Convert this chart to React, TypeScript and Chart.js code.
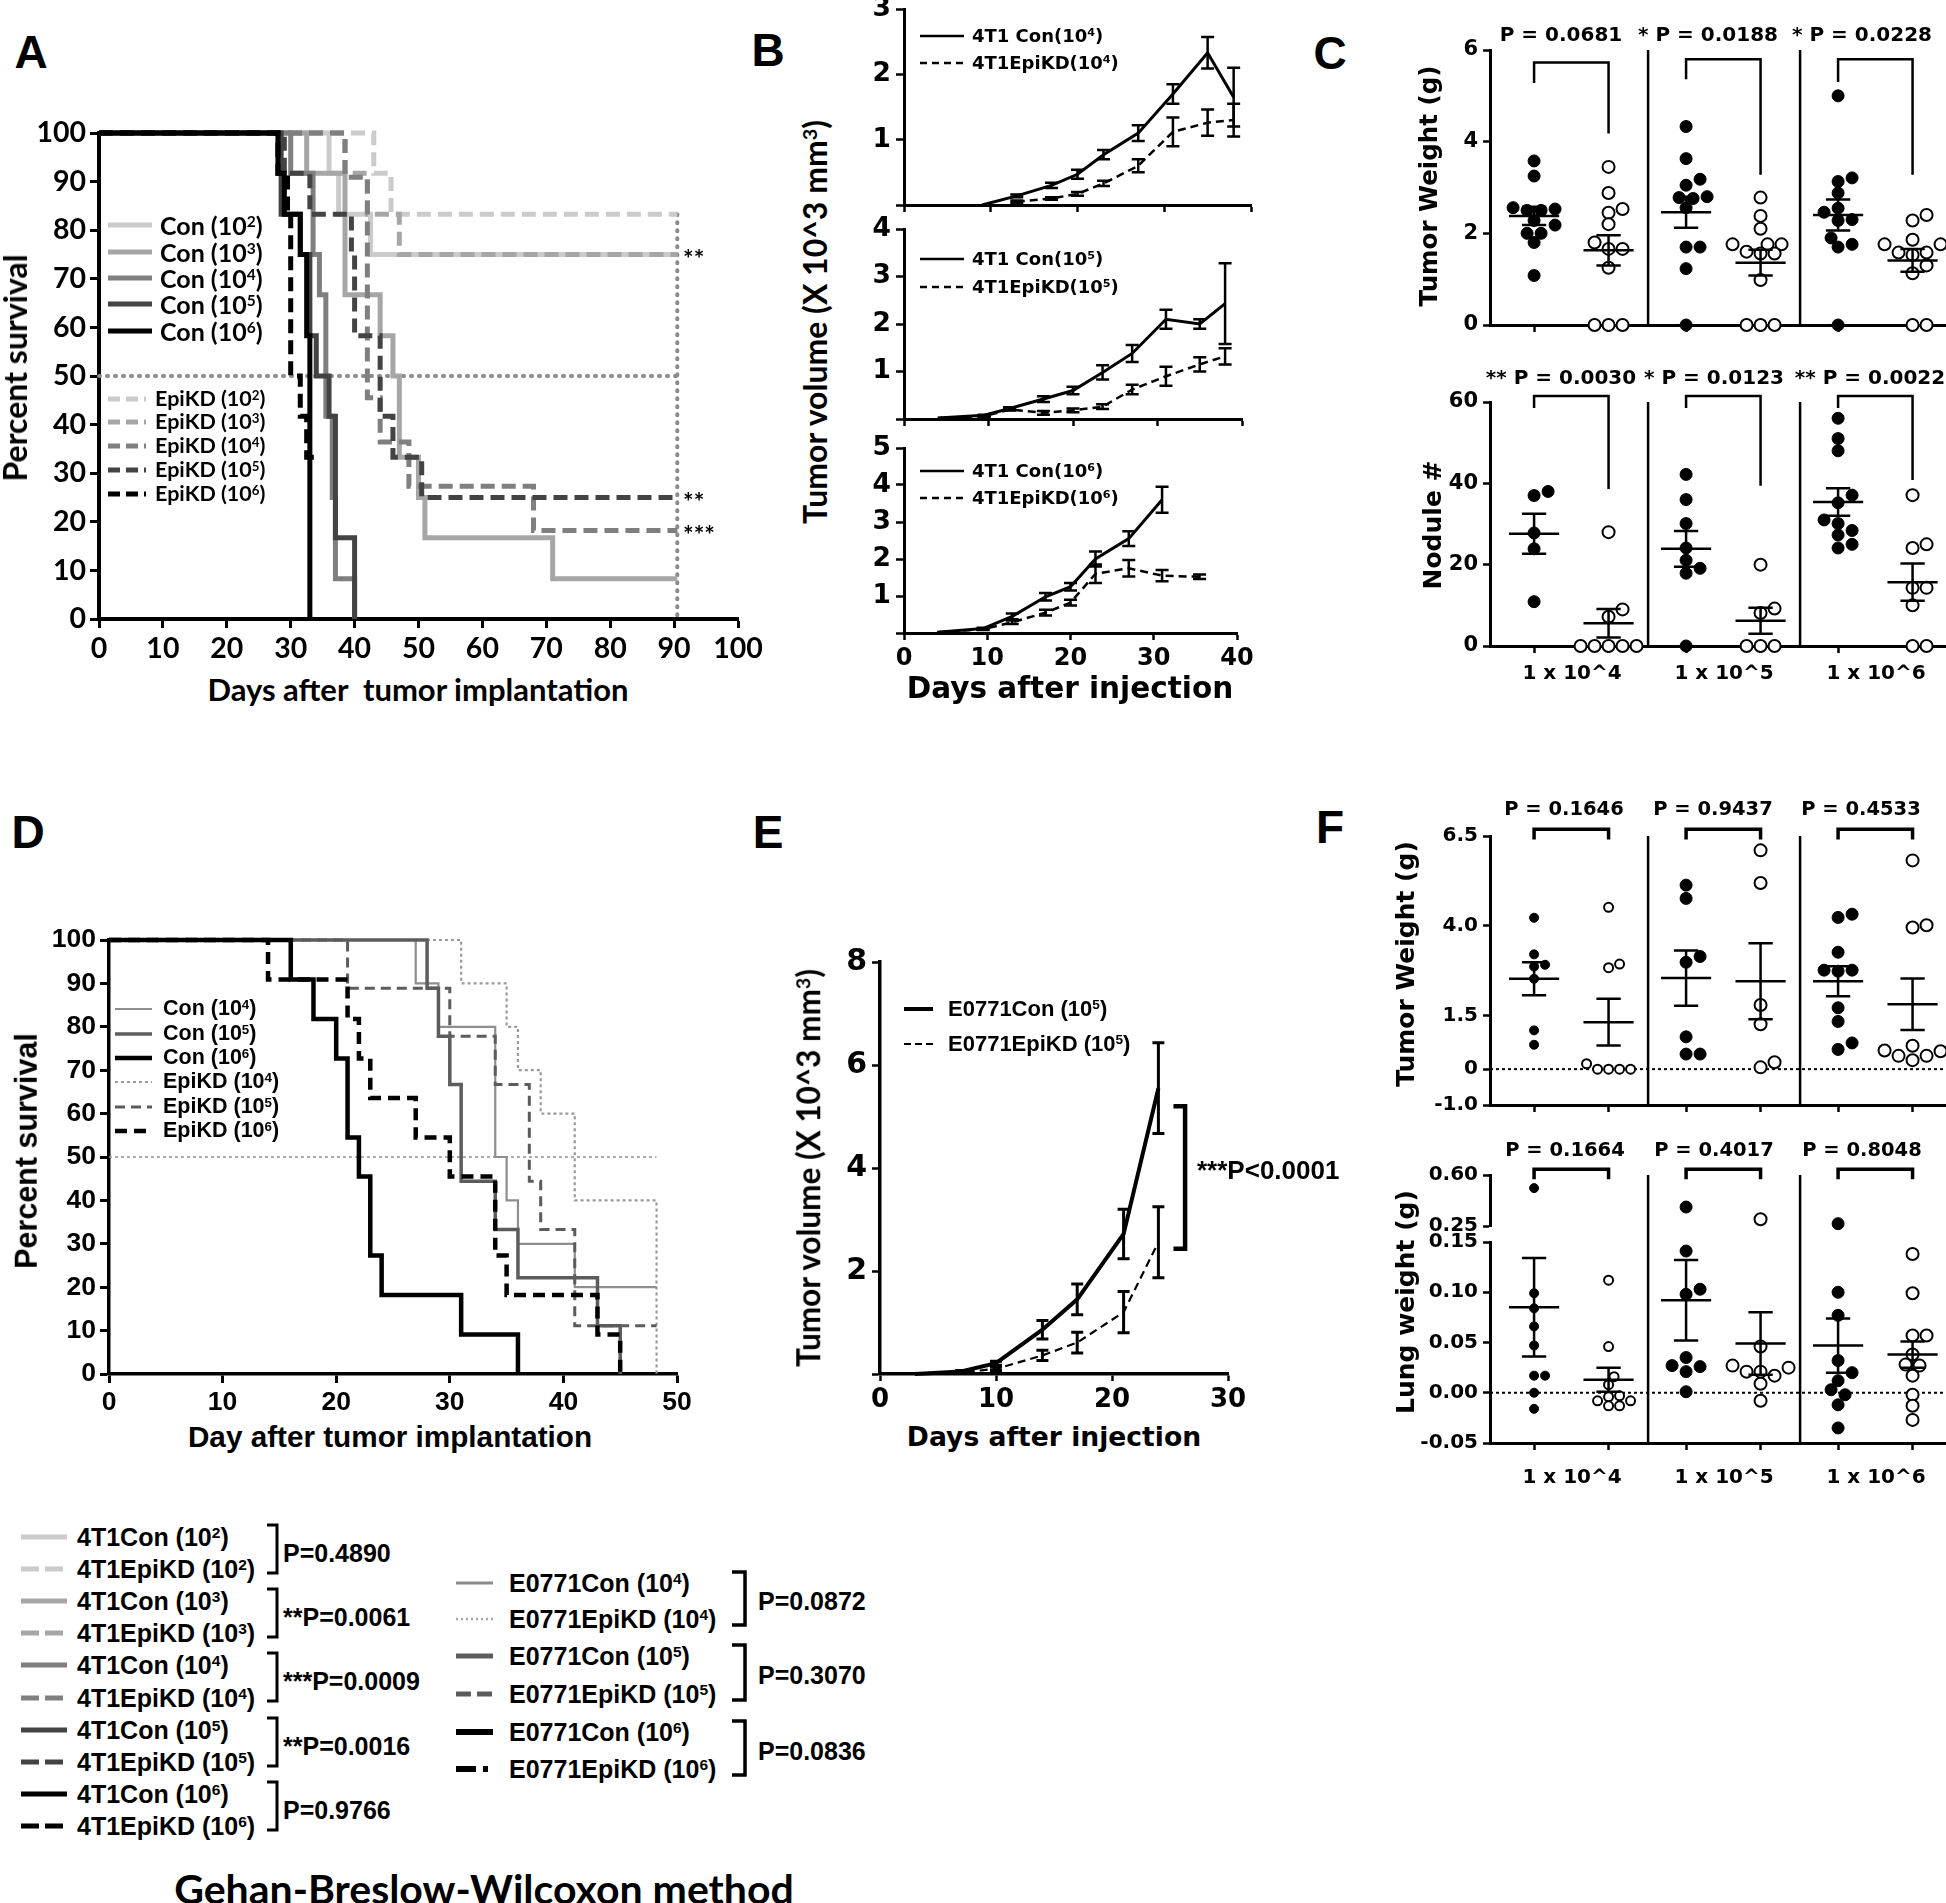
import React, { useEffect, useRef } from "react";
import { Chart, registerables } from "chart.js";

Chart.register(...registerables);

/* ---------------- fonts ---------------- */
const LATO = "Lato, 'Open Sans', sans-serif";
const DV = "'DejaVu Sans', Verdana, sans-serif";
const AR = "'Liberation Sans', Arial, sans-serif";

/* ======================= DATA ======================= */
// Panel A – 4T1 survival, Kaplan-Meier steps [day, % survival]
const aXTicks = [0, 10, 20, 30, 40, 50, 60, 70, 80, 90, 100];
const aYTicks = [0, 10, 20, 30, 40, 50, 60, 70, 80, 90, 100];
const aCon2 = [[0, 100], [36, 91.7], [37.5, 83.3], [42.5, 75], [90.5, 75]];
const aEpi2 = [[0, 100], [43, 91.7], [45.7, 83.3], [90.5, 83.3]];
const aCon3 = [[0, 100], [32.5, 91.7], [38.5, 66.7], [44, 58.3], [46, 50], [47, 33.3], [50, 25], [51, 16.7], [71, 8.3], [90.5, 8.3]];
const aEpi3 = [[0, 100], [38.5, 91.7], [42, 83.3], [47, 75], [90.5, 75]];
const aCon4 = [[0, 100], [30, 91.7], [33.5, 75], [34.5, 66.7], [35.5, 41.7], [36.5, 25], [37, 8.3], [40, 0]];
const aEpi4 = [[0, 100], [38.5, 90.9], [42, 45.5], [44, 36.4], [48.5, 27.3], [68, 18.2], [90.5, 18.2]];
const aCon5 = [[0, 100], [28.5, 83.3], [31.5, 75], [33, 58.3], [34, 50], [36, 41.7], [37, 16.7], [40, 0]];
const aEpi5 = [[0, 100], [29, 91.7], [33, 83.3], [39.5, 75], [40, 58.3], [44, 41.7], [46, 33.3], [50.5, 25], [90.5, 25]];
const aCon6 = [[0, 100], [28, 91.7], [29, 83.3], [31.5, 75], [32.5, 58.3], [33, 0]];
const aEpi6 = [[0, 100], [28, 91.7], [29.5, 83.3], [30, 50], [31.5, 41.7], [32.5, 33.3], [34, 33.3]];
const aMedianLevel = 50;
const aEndDay = 90.5;
const aEndTop = 83.3;
const aStarLabels = ["**", "**", "***"];
const aStarValues = [75, 25, 18.2];
const aLegendExp = ["2", "3", "4", "5", "6"];

// Panel B – 4T1 tumour growth (x10^3 mm3), mean and SEM
const bXTicks = [0, 10, 20, 30, 40];
const bDays4 = [9, 13, 17, 20, 23, 27, 31, 35, 38];
const bCon4 = [0, 0.14, 0.3, 0.47, 0.77, 1.1, 1.7, 2.33, 1.65];
const bCon4Sem = [0, 0.02, 0.04, 0.07, 0.07, 0.12, 0.15, 0.24, 0.45];
const bEpi4 = [null, 0.05, 0.1, 0.17, 0.33, 0.6, 1.12, 1.26, 1.3];
const bEpi4Sem = [0, 0.02, 0.02, 0.03, 0.04, 0.1, 0.22, 0.2, 0.25];
const bDays5 = [4, 9.5, 12.5, 16.5, 20, 23.5, 27, 31, 35, 38];
const bCon5 = [0.02, 0.08, 0.22, 0.42, 0.6, 0.98, 1.38, 2.1, 2.0, 2.43];
const bCon5Sem = [0, 0.01, 0.03, 0.06, 0.08, 0.15, 0.18, 0.2, 0.1, 0.85];
const bEpi5 = [0.02, 0.06, 0.2, 0.13, 0.18, 0.26, 0.62, 0.9, 1.15, 1.32];
const bEpi5Sem = [0, 0.01, 0.02, 0.04, 0.04, 0.05, 0.1, 0.2, 0.15, 0.17];
const bDays6 = [4, 9.5, 13, 17, 20, 23, 27, 31, 35.5];
const bCon6 = [0.02, 0.12, 0.45, 0.98, 1.25, 2.0, 2.55, 3.6, null];
const bCon6Sem = [0, 0.02, 0.08, 0.1, 0.1, 0.2, 0.2, 0.35, 0];
const bEpi6 = [0.02, 0.1, 0.29, 0.55, 0.82, 1.6, 1.75, 1.55, 1.52];
const bEpi6Sem = [0, 0.02, 0.05, 0.08, 0.08, 0.25, 0.22, 0.15, 0.06];

// Panel C – tumour weight (g) and nodule number
const cWeightCon4 = [3.58, 3.25, 2.56, 2.53, 2.5, 2.5, 2.28, 2.18, 2.0, 2.0, 1.8, 1.08];
const cWeightEpi4 = [3.45, 2.88, 2.53, 2.45, 2.2, 1.8, 1.66, 1.66, 1.25, 0, 0, 0];
const cWeightCon5 = [4.33, 3.63, 3.18, 3.05, 2.8, 2.78, 2.76, 2.56, 1.7, 1.7, 1.23, 0];
const cWeightEpi5 = [2.78, 2.38, 2.1, 1.76, 1.76, 1.76, 1.6, 1.56, 1.56, 0.98, 0, 0, 0];
const cWeightCon6 = [5.0, 3.21, 3.13, 2.88, 2.55, 2.46, 2.3, 2.28, 1.9, 1.76, 1.7, 0];
const cWeightEpi6 = [2.4, 2.28, 1.86, 1.76, 1.76, 1.58, 1.58, 1.53, 1.3, 1.13, 0, 0];
const cWeightMean = [2.38, 1.63, 2.46, 1.36, 2.4, 1.41];
const cWeightSem = [0.2, 0.33, 0.34, 0.28, 0.34, 0.25];
const cWeightBracketTop = [5.73, 5.8, 5.8];
const cWeightBracketLeft = [5.28, 5.36, 5.3];
const cWeightBracketRight = [4.18, 3.28, 3.28];
const cWeightP = ["P = 0.0681", "* P = 0.0188", "* P = 0.0228"];
const cWeightTicks = [0, 2, 4, 6];

const cNodCon4 = [38, 37, 27.8, 23.9, 10.9];
const cNodEpi4 = [28, 9, 7.2, 0, 0, 0, 0, 0];
const cNodCon5 = [42.2, 36, 30.1, 24.1, 21.1, 19.1, 17.9, 0];
const cNodEpi5 = [20, 9.2, 8.1, 0, 0, 0];
const cNodCon6 = [56, 51, 48, 37.1, 35.2, 31, 30.1, 28.4, 27.3, 25, 24.1];
const cNodEpi6 = [37.1, 25, 24.1, 14.3, 14.3, 10, 0, 0];
const cNodMean = [27.6, 5.6, 23.9, 6.2, 35.4, 15.7];
const cNodSem = [4.9, 3.5, 4.4, 3.2, 3.4, 4.6];
const cNodBracketTop = [61.5, 61.5, 61.5];
const cNodBracketLeft = [58.5, 58.5, 58.5];
const cNodBracketRight = [38.6, 39.4, 40.8];
const cNodP = ["** P = 0.0030", "* P = 0.0123", "** P = 0.0022"];
const cNodTicks = [0, 20, 40, 60];

// Panel D – E0771 survival
const dXTicks = [0, 10, 20, 30, 40, 50];
const dYTicks = [0, 10, 20, 30, 40, 50, 60, 70, 80, 90, 100];
const dCon4 = [[0, 100], [27, 90], [29, 80], [34, 50], [35, 40], [36, 30], [41, 20], [48.2, 20]];
const dCon5 = [[0, 100], [28, 88.9], [29, 77.8], [30, 66.7], [31, 44.4], [34, 33.3], [36, 22.2], [43, 11.1], [45, 0]];
const dCon6 = [[0, 100], [16, 90.9], [18, 81.8], [20, 72.7], [21, 54.5], [22, 45.5], [23, 27.3], [24, 18.2], [31, 9.1], [36, 0]];
const dEpi4 = [[0, 100], [31, 90], [35, 80], [36, 70], [38, 60], [41, 40], [48.2, 0]];
const dEpi5 = [[0, 100], [21, 88.9], [30, 77.8], [34, 66.7], [37, 44.4], [38, 33.3], [41, 11.1], [48.2, 11.1]];
const dEpi6 = [[0, 100], [14, 90.9], [21, 81.8], [22, 72.7], [23, 63.6], [27, 54.5], [30, 45.5], [34, 27.3], [35, 18.2], [43, 9.1], [45, 0]];
const dMedianLevel = 50;
const dEndDay = 48.2;
const dLegendLabels = ["Con", "Con", "Con", "EpiKD", "EpiKD", "EpiKD"];
const dLegendExp = ["4", "5", "6", "4", "5", "6"];

// Panel E – E0771 growth
const eXTicks = [0, 10, 20, 30];
const eYTicks = [0, 2, 4, 6, 8];
const eDays = [3, 7, 10, 14, 17, 21, 24];
const eCon = [0, 0.05, 0.21, 0.86, 1.45, 2.72, 5.55];
const eConSem = [0, 0.02, 0.04, 0.18, 0.3, 0.48, 0.88];
const eEpi = [0, 0.03, 0.1, 0.36, 0.61, 1.2, 2.56];
const eEpiSem = [0, 0.01, 0.03, 0.1, 0.2, 0.4, 0.69];
const eBracketDays = [25.3, 26.3];
const eBracketValues = [5.2, 2.43];

// Panel F – E0771 tumour weight and lung weight
const fWeightCon4 = [4.22, 3.2, 2.91, 2.86, 2.52, 1.08, 0.68];
const fWeightEpi4 = [4.51, 2.93, 2.83, 0.15, 0, 0, 0, 0];
const fWeightCon5 = [5.13, 4.76, 3.14, 2.98, 0.9, 0.42, 0.42];
const fWeightEpi5 = [6.1, 5.19, 1.79, 1.25, 0.19, 0.05];
const fWeightCon6 = [4.32, 4.23, 3.26, 2.76, 2.76, 2.73, 1.71, 1.33, 0.73, 0.55];
const fWeightEpi6 = [5.82, 4.01, 3.95, 0.65, 0.52, 0.5, 0.37, 0.37, 0.25];
const fWeightMean = [2.52, 1.31, 2.54, 2.45, 2.45, 1.81];
const fWeightSem = [0.46, 0.65, 0.77, 1.06, 0.42, 0.72];
const fWeightTicks = [-1, 0, 1.5, 4, 6.5];
const fWeightBracketTop = [6.69, 6.69, 6.69];
const fWeightBracketEnd = [6.4, 6.4, 6.4];
const fWeightP = ["P = 0.1646", "P = 0.9437", "P = 0.4533"];

const fLungCon4 = [0.51, 0.099, 0.084, 0.066, 0.047, 0.017, 0.017, 0.0, -0.016];
const fLungEpi4 = [0.112, 0.046, 0.016, 0.008, -0.003, -0.004, -0.008, -0.008, -0.013, -0.013];
const fLungCon5 = [0.38, 0.141, 0.103, 0.098, 0.035, 0.027, 0.026, 0.021, 0.001];
const fLungEpi5 = [0.296, 0.046, 0.027, 0.025, 0.021, 0.021, 0.017, 0.009, -0.008];
const fLungCon6 = [0.266, 0.1, 0.077, 0.032, 0.02, 0.012, 0.003, -0.002, -0.012, -0.035];
const fLungEpi6 = [0.138, 0.099, 0.057, 0.057, 0.038, 0.028, 0.027, 0.017, -0.002, -0.013, -0.027];
const fLungMean = [0.085, 0.013, 0.092, 0.049, 0.047, 0.038];
const fLungSem = [0.049, 0.012, 0.04, 0.031, 0.027, 0.013];
const fLungUpperTicks = [0.25, 0.6];
const fLungLowerTicks = [-0.05, 0, 0.05, 0.1, 0.15];
const fLungBreak = 0.2;
const fLungBracketTop = [0.64, 0.64, 0.64];
const fLungBracketEnd = [0.57, 0.57, 0.57];
const fLungP = ["P = 0.1664", "P = 0.4017", "P = 0.8048"];

// shared dot-plot categories
const CON_POS = [0.25, 1.25, 2.25];
const OPEN_POS = [0.74, 1.74, 2.74];
const CAT_POS = [0.5, 1.5, 2.5];
const CAT_LABELS = ["1 x 10^4", "1 x 10^5", "1 x 10^6"];
const SEPARATORS = [1, 2];

// bottom legend (Gehan-Breslow-Wilcoxon)
const leg4T1Exp = ["2", "3", "4", "5", "6"];
const leg4T1P = ["P=0.4890", "**P=0.0061", "***P=0.0009", "**P=0.0016", "P=0.9766"];
const legE0771Exp = ["4", "5", "6"];
const legE0771P = ["P=0.0872", "P=0.3070", "P=0.0836"];

/* ======================= STYLES / LAYOUT ======================= */
const greys = ["#cbcbcb", "#a6a6a6", "#7f7f7f", "#434343", "#000000"];
const X_MIN = -0.04;
const X_MAX = 2.96;
const PX_PER_X = 152;

/* ======================= helpers ======================= */
function scaleOpts(o: any) {
  return {
    type: "linear",
    display: o.display !== false,
    min: o.min,
    max: o.max,
    border: { display: o.border !== false, color: "#000", width: o.bw ?? 3 },
    grid: {
      display: true,
      drawOnChartArea: false,
      drawTicks: (o.tickLen ?? 8) > 0,
      tickLength: o.tickLen ?? 8,
      tickWidth: o.tw ?? 2.5,
      tickColor: o.tickColor ?? "#000",
    },
    ticks: {
      color: "#000",
      font: { family: o.family, size: o.size, weight: "bold" },
      padding: o.pad ?? 4,
      autoSkip: false,
      maxRotation: 0,
      minRotation: 0,
      callback: o.fmt ?? ((v: any) => String(v)),
    },
    afterBuildTicks: (s: any) => {
      s.ticks = o.ticks.map((v: number) => ({ value: v }));
    },
  };
}

function pts(days: number[], vals: any[], sems?: number[]) {
  const out: any[] = [];
  days.forEach((d, i) => {
    if (vals[i] === null || vals[i] === undefined) return;
    out.push({ x: d, y: vals[i], e: sems ? sems[i] : 0 });
  });
  return out;
}

function swarm(values: number[], pxPerY: number, diam: number): number[] {
  const order = values.map((_, i) => i).sort((a, b) => values[a] - values[b]);
  const placed: number[][] = [];
  const out = new Array(values.length).fill(0);
  const minD = diam * 0.78;
  for (const i of order) {
    const py = values[i] * pxPerY;
    for (let k = 0; k < 60; k++) {
      const step = Math.ceil(k / 2) * (k % 2 ? 1 : -1) * 0.5 * diam;
      const ok = placed.every(([qx, qy]) => (qx - step) ** 2 + (qy - py) ** 2 >= minD * minD);
      if (ok) {
        out[i] = step;
        placed.push([step, py]);
        break;
      }
    }
  }
  return out;
}

const errPlugin = (cap: number, lw: number) => ({
  id: "errbars",
  afterDatasetsDraw(chart: any) {
    const { ctx } = chart;
    const x = chart.scales.x;
    const y = chart.scales.y;
    ctx.save();
    ctx.strokeStyle = "#000";
    ctx.lineWidth = lw;
    ctx.setLineDash([]);
    chart.data.datasets.forEach((ds: any) => {
      ds.data.forEach((p: any) => {
        if (!p || !p.e) return;
        const px = x.getPixelForValue(p.x);
        const yt = y.getPixelForValue(p.y + p.e);
        const yb = y.getPixelForValue(p.y - p.e);
        ctx.beginPath();
        ctx.moveTo(px, yt);
        ctx.lineTo(px, yb);
        ctx.moveTo(px - cap, yt);
        ctx.lineTo(px + cap, yt);
        ctx.moveTo(px - cap, yb);
        ctx.lineTo(px + cap, yb);
        ctx.stroke();
      });
    });
    ctx.restore();
  },
});

const statsPlugin = (centers: number[], means: number[], sems: number[], half: number, cap: number, lw: number) => ({
  id: "meansem",
  afterDatasetsDraw(chart: any) {
    const { ctx } = chart;
    const x = chart.scales.x;
    const y = chart.scales.y;
    ctx.save();
    ctx.strokeStyle = "#000";
    ctx.lineWidth = lw;
    ctx.setLineDash([]);
    centers.forEach((c, i) => {
      const m = means[i];
      const s = sems[i];
      const ym = y.getPixelForValue(m);
      const yt = y.getPixelForValue(m + s);
      const yb = y.getPixelForValue(m - s);
      ctx.beginPath();
      ctx.moveTo(x.getPixelForValue(c - half), ym);
      ctx.lineTo(x.getPixelForValue(c + half), ym);
      ctx.moveTo(x.getPixelForValue(c), yt);
      ctx.lineTo(x.getPixelForValue(c), yb);
      ctx.moveTo(x.getPixelForValue(c - cap), yt);
      ctx.lineTo(x.getPixelForValue(c + cap), yt);
      ctx.moveTo(x.getPixelForValue(c - cap), yb);
      ctx.lineTo(x.getPixelForValue(c + cap), yb);
      ctx.stroke();
    });
    ctx.restore();
  },
});

const polyPlugin = (lines: number[][][], lw: number) => ({
  id: "polylines",
  afterDatasetsDraw(chart: any) {
    const { ctx } = chart;
    const x = chart.scales.x;
    const y = chart.scales.y;
    ctx.save();
    ctx.strokeStyle = "#000";
    ctx.lineWidth = lw;
    ctx.lineJoin = "miter";
    ctx.setLineDash([]);
    lines.forEach((line) => {
      ctx.beginPath();
      line.forEach(([a, b], i) => {
        const px = x.getPixelForValue(a);
        const py = y.getPixelForValue(b);
        if (i === 0) ctx.moveTo(px, py);
        else ctx.lineTo(px, py);
      });
      ctx.stroke();
    });
    ctx.restore();
  },
});

const sepPlugin = (xs: number[], lw: number, extTop: number) => ({
  id: "separators",
  beforeDatasetsDraw(chart: any) {
    const { ctx, chartArea } = chart;
    const x = chart.scales.x;
    ctx.save();
    ctx.strokeStyle = "#000";
    ctx.lineWidth = lw;
    xs.forEach((v) => {
      const px = x.getPixelForValue(v);
      ctx.beginPath();
      ctx.moveTo(px, chartArea.top - extTop);
      ctx.lineTo(px, chartArea.bottom);
      ctx.stroke();
    });
    ctx.restore();
  },
});

const hLinePlugin = (v: number, lw: number, dash: number[]) => ({
  id: "hline",
  beforeDatasetsDraw(chart: any) {
    const { ctx, chartArea } = chart;
    const py = chart.scales.y.getPixelForValue(v);
    ctx.save();
    ctx.strokeStyle = "#000";
    ctx.lineWidth = lw;
    ctx.setLineDash(dash);
    ctx.beginPath();
    ctx.moveTo(chartArea.left, py);
    ctx.lineTo(chartArea.right, py);
    ctx.stroke();
    ctx.restore();
  },
});

function ChartBox({ plot, m, build }: { plot: number[]; m: number[]; build: () => any }) {
  const ref = useRef<HTMLCanvasElement | null>(null);
  const [l, t, r, b] = plot;
  const [ml, mt, mr, mb] = m;
  const W = Math.round(r - l + ml + mr);
  const H = Math.round(b - t + mt + mb);
  useEffect(() => {
    if (!ref.current) return;
    const cfg = build();
    const sc = cfg.options.scales;
    const zero = (s: any) => {
      s.paddingTop = 0;
      s.paddingBottom = 0;
      s.paddingLeft = 0;
      s.paddingRight = 0;
    };
    const xHidden = sc.x && sc.x.display === false;
    if (sc.x) sc.x.afterFit = (s: any) => { s.height = xHidden ? 0 : mb; zero(s); };
    if (sc.y) sc.y.afterFit = (s: any) => { s.width = ml; zero(s); };
    cfg.options.responsive = false;
    cfg.options.animation = false;
    cfg.options.events = [];
    cfg.options.layout = { autoPadding: false, padding: { left: 0, top: mt, right: mr, bottom: xHidden ? mb : 0 } };
    cfg.options.plugins = { legend: { display: false }, tooltip: { enabled: false }, title: { display: false } };
    const ch = new Chart(ref.current, cfg);
    return () => ch.destroy();
  }, []);
  return (
    <canvas
      ref={ref}
      width={W}
      height={H}
      style={{ position: "absolute", left: l - ml, top: t - mt, width: W, height: H }}
    />
  );
}

function T({ x, y, s, f, a = "c", r = 0, w = 700, children }: any) {
  const tx = a === "l" ? "0%" : a === "r" ? "-100%" : "-50%";
  return (
    <div
      style={{
        position: "absolute",
        left: x,
        top: y,
        transform: `translate(${tx}, -50%)${r ? ` rotate(${r}deg)` : ""}`,
        fontFamily: f,
        fontSize: s,
        fontWeight: w,
        lineHeight: 1,
        whiteSpace: "pre",
        color: "#000",
      }}
    >
      {children}
    </div>
  );
}

const Sup = ({ c }: any) => (
  <sup style={{ fontSize: "0.62em", verticalAlign: "0.5em", lineHeight: 0 }}>{c}</sup>
);

function L({ x1, x2, y, c, w, d, cap = "butt" }: any) {
  return (
    <svg style={{ position: "absolute", left: x1, top: y - 10, overflow: "visible" }} width={x2 - x1} height={20}>
      <line x1={0} y1={10} x2={x2 - x1} y2={10} stroke={c} strokeWidth={w} strokeDasharray={d} strokeLinecap={cap} />
    </svg>
  );
}

function Brk({ x, y1, y2, tick, w }: any) {
  return (
    <svg style={{ position: "absolute", left: x - tick - 2, top: y1 - 2, overflow: "visible" }} width={tick + 4} height={y2 - y1 + 4}>
      <path d={`M 2 2 L ${tick + 2} 2 L ${tick + 2} ${y2 - y1 + 2} L 2 ${y2 - y1 + 2}`} fill="none" stroke="#000" strokeWidth={w} />
    </svg>
  );
}

/* ---------- config builders ---------- */
function survivalCfg(series: any[], xTicks: number[], yTicks: number[], xMax: number, family: string, size: number, bw: number, ref: any[]) {
  return {
    type: "scatter",
    data: {
      datasets: [
        ...series.map((s) => ({
          data: s.data.map(([x, y]: number[]) => ({ x, y })),
          showLine: true,
          stepped: "before",
          borderColor: s.color,
          borderWidth: s.width,
          borderDash: s.dash,
          borderCapStyle: "butt",
          pointRadius: 0,
          clip: false,
          fill: false,
        })),
        ...ref.map((r) => ({
          data: r.data.map(([x, y]: number[]) => ({ x, y })),
          showLine: true,
          borderColor: r.color,
          borderWidth: r.width,
          borderDash: r.dash,
          borderCapStyle: r.cap || "butt",
          pointRadius: 0,
          clip: false,
          fill: false,
        })),
      ],
    },
    options: {
      scales: {
        x: scaleOpts({ min: 0, max: xMax, ticks: xTicks, family, size, tickLen: 9, pad: 4, bw, tw: 3 }),
        y: scaleOpts({ min: 0, max: 100, ticks: yTicks, family, size, tickLen: 9, pad: 4, bw, tw: 3 }),
      },
    },
  };
}

function growthCfg(o: any) {
  return {
    type: "scatter",
    data: {
      datasets: [
        { data: pts(o.days, o.con, o.conSem), showLine: true, borderColor: "#000", borderWidth: o.conW, pointRadius: 0, clip: false },
        { data: pts(o.days, o.epi, o.epiSem), showLine: true, borderColor: "#000", borderWidth: o.epiW, borderDash: o.dash, pointRadius: 0, clip: false },
      ],
    },
    options: {
      scales: {
        x: scaleOpts({ min: 0, max: o.xMax, ticks: o.xTicks, family: DV, size: o.xSize, tickLen: 7, pad: 4, bw: o.bw, fmt: o.xLabels ? (v: any) => String(v) : () => "" }),
        y: scaleOpts({ min: 0, max: o.yMax, ticks: o.yTicks, family: DV, size: o.ySize, tickLen: 8, pad: 5, bw: o.bw, fmt: (v: any) => (v === 0 ? "" : String(v)) }),
      },
    },
    plugins: [errPlugin(o.cap, o.errW), ...(o.extra || [])],
  };
}

function dotCfg(o: any) {
  const datasets: any[] = [];
  o.groups.forEach((pair: number[][], g: number) => {
    pair.forEach((vals: number[], k: number) => {
      const v = o.keep ? vals.filter(o.keep) : vals;
      const r = o.radii[g];
      const off = swarm(v, o.pxPerY, 2 * r + 2);
      const cx = k === 0 ? CON_POS[g] : OPEN_POS[g];
      datasets.push({
        data: v.map((y, i) => ({ x: cx + off[i] / PX_PER_X, y })),
        showLine: false,
        pointRadius: r,
        pointHoverRadius: r,
        pointBackgroundColor: k === 0 ? "#000" : "#fff",
        pointBorderColor: "#000",
        pointBorderWidth: k === 0 ? 1 : 2,
        clip: false,
      });
    });
  });
  const xTicks: number[] = [];
  CON_POS.forEach((c, g) => xTicks.push(c, CAT_POS[g], OPEN_POS[g]));
  const plugins: any[] = [];
  if (o.seps) plugins.push(sepPlugin(SEPARATORS, 2.5, o.sepExt || 0));
  if (o.zero) plugins.push(hLinePlugin(0, 2, [3, 3]));
  if (o.stats) {
    const centers: number[] = [];
    CON_POS.forEach((c, g) => centers.push(c, OPEN_POS[g]));
    plugins.push(statsPlugin(centers, o.stats.means, o.stats.sems, 0.165, 0.08, 2.5));
  }
  if (o.brackets) {
    const lines = CON_POS.map((c, g) => [
      [c, o.brackets.left[g]],
      [c, o.brackets.top[g]],
      [OPEN_POS[g], o.brackets.top[g]],
      [OPEN_POS[g], o.brackets.right[g]],
    ]);
    plugins.push(polyPlugin(lines, o.brackets.lw));
  }
  return {
    type: "scatter",
    data: { datasets },
    options: {
      scales: {
        x: scaleOpts({
          display: o.xDisplay !== false,
          min: X_MIN,
          max: X_MAX,
          ticks: xTicks,
          family: DV,
          size: 20,
          tickLen: 7,
          pad: o.catPad ?? 4,
          bw: 3,
          tickColor: (ctx: any) => (ctx.tick && CAT_POS.includes(ctx.tick.value) ? "rgba(0,0,0,0)" : "#000"),
          fmt: (v: any) => {
            const i = CAT_POS.indexOf(v);
            return o.cats && i >= 0 ? CAT_LABELS[i] : "";
          },
        }),
        y: scaleOpts({ min: o.yMin, max: o.yMax, ticks: o.yTicks, family: DV, size: o.tickSize, tickLen: 7, pad: 5, bw: 3, fmt: o.yFmt }),
      },
    },
    plugins,
  };
}

/* ======================= PANELS ======================= */
function PanelA() {
  const series = [
    { data: aCon6, color: greys[4], width: 5, dash: [] },
    { data: aEpi6, color: greys[4], width: 5, dash: [14, 7] },
    { data: aCon5, color: greys[3], width: 5, dash: [] },
    { data: aEpi5, color: greys[3], width: 5, dash: [14, 7] },
    { data: aCon4, color: greys[2], width: 5, dash: [] },
    { data: aEpi4, color: greys[2], width: 5, dash: [14, 7] },
    { data: aCon3, color: greys[1], width: 5, dash: [] },
    { data: aEpi3, color: greys[1], width: 5, dash: [14, 7] },
    { data: aCon2, color: greys[0], width: 5, dash: [] },
    { data: aEpi2, color: greys[0], width: 5, dash: [14, 7] },
  ];
  const ref = [
    { data: [[0, aMedianLevel], [aEndDay, aMedianLevel]], color: "#8a8a8a", width: 4, dash: [1, 7], cap: "round" },
    { data: [[aEndDay, aEndTop], [aEndDay, 0]], color: "#8a8a8a", width: 4, dash: [1, 7], cap: "round" },
  ];
  const yPx = (v: number) => 619 - (v / 100) * (619 - 133);
  const conY = [225, 252, 278, 304, 331];
  const epiY = [399, 422, 446, 470, 494];
  return (
    <>
      <ChartBox plot={[99, 133, 738, 619]} m={[95, 22, 32, 50]} build={() => survivalCfg(series, aXTicks, aYTicks, 100, LATO, 28.5, 4, ref)} />
      <T x={31} y={52} s={46} f={AR}>A</T>
      <T x={15} y={368} s={32} f={LATO} r={-90}>Percent survival</T>
      <T x={418} y={689} s={31} f={LATO}>{"Days after  tumor implantation"}</T>
      {conY.map((y, i) => (
        <React.Fragment key={"ac" + i}>
          <L x1={108} x2={152} y={y} c={greys[i]} w={5} />
          <T x={160} y={y} s={25} f={LATO} a="l">
            Con (10<Sup c={aLegendExp[i]} />)
          </T>
        </React.Fragment>
      ))}
      {epiY.map((y, i) => (
        <React.Fragment key={"ae" + i}>
          <L x1={108} x2={146} y={y} c={greys[i]} w={5} d="12 6" />
          <T x={155} y={y} s={21.5} f={LATO} a="l">
            EpiKD (10<Sup c={aLegendExp[i]} />)
          </T>
        </React.Fragment>
      ))}
      {aStarLabels.map((s, i) => (
        <T key={"as" + i} x={683} y={yPx(aStarValues[i]) + 3} s={25} f={LATO} a="l">
          {s}
        </T>
      ))}
    </>
  );
}

function PanelB() {
  const common = { xMax: 40, xTicks: bXTicks, xSize: 24, ySize: 26.5, conW: 3, epiW: 2.5, dash: [8, 5], bw: 3, cap: 6.5, errW: 2.5 };
  const legends = [
    { ys: [36, 63], e: "4" },
    { ys: [259, 287], e: "5" },
    { ys: [471, 498], e: "6" },
  ];
  return (
    <>
      <ChartBox plot={[904, 9, 1251, 205]} m={[70, 14, 20, 16]} build={() => growthCfg({ ...common, days: bDays4, con: bCon4, conSem: bCon4Sem, epi: bEpi4, epiSem: bEpi4Sem, yMax: 3, yTicks: [0, 1, 2, 3], xLabels: false })} />
      <ChartBox plot={[904, 229, 1242, 419]} m={[70, 14, 20, 16]} build={() => growthCfg({ ...common, days: bDays5, con: bCon5, conSem: bCon5Sem, epi: bEpi5, epiSem: bEpi5Sem, yMax: 4, yTicks: [0, 1, 2, 3, 4], xLabels: false })} />
      <ChartBox plot={[904, 448, 1237, 633]} m={[70, 14, 25, 40]} build={() => growthCfg({ ...common, days: bDays6, con: bCon6, conSem: bCon6Sem, epi: bEpi6, epiSem: bEpi6Sem, yMax: 5, yTicks: [0, 1, 2, 3, 4, 5], xLabels: true })} />
      <T x={768} y={50} s={46} f={AR}>B</T>
      <T x={815} y={322} s={32} f={LATO} r={-90}>
        Tumor volume (X 10^3 mm<Sup c="3" />)
      </T>
      <T x={1070} y={689} s={29.5} f={DV}>Days after injection</T>
      {legends.map((lg, i) => (
        <React.Fragment key={"bl" + i}>
          <L x1={920} x2={964} y={lg.ys[0]} c="#000" w={2.5} />
          <L x1={920} x2={964} y={lg.ys[1]} c="#000" w={2.5} d="7 5" />
          <T x={972} y={lg.ys[0]} s={18} f={DV} a="l">
            4T1 Con(10<Sup c={lg.e} />)
          </T>
          <T x={972} y={lg.ys[1]} s={18} f={DV} a="l">
            4T1EpiKD(10<Sup c={lg.e} />)
          </T>
        </React.Fragment>
      ))}
    </>
  );
}

function PanelC() {
  const wGroups = [[cWeightCon4, cWeightEpi4], [cWeightCon5, cWeightEpi5], [cWeightCon6, cWeightEpi6]];
  const nGroups = [[cNodCon4, cNodEpi4], [cNodCon5, cNodEpi5], [cNodCon6, cNodEpi6]];
  const pxTop = [1561, 1708, 1862];
  const pxBot = [1561, 1714, 1870];
  return (
    <>
      <ChartBox
        plot={[1490, 50, 1946, 325]}
        m={[75, 20, 0, 16]}
        build={() =>
          dotCfg({
            groups: wGroups, radii: [6, 6, 6], pxPerY: 275 / 6, yMin: 0, yMax: 6, yTicks: cWeightTicks, tickSize: 21,
            yFmt: (v: any) => String(v), cats: false, seps: true,
            stats: { means: cWeightMean, sems: cWeightSem },
            brackets: { top: cWeightBracketTop, left: cWeightBracketLeft, right: cWeightBracketRight, lw: 2.5 },
          })
        }
      />
      <ChartBox
        plot={[1490, 402, 1946, 646]}
        m={[75, 20, 0, 45]}
        build={() =>
          dotCfg({
            groups: nGroups, radii: [6, 6, 6], pxPerY: 244 / 60, yMin: 0, yMax: 60, yTicks: cNodTicks, tickSize: 21,
            yFmt: (v: any) => String(v), cats: true, catPad: 9, seps: true,
            stats: { means: cNodMean, sems: cNodSem },
            brackets: { top: cNodBracketTop, left: cNodBracketLeft, right: cNodBracketRight, lw: 2.5 },
          })
        }
      />
      <T x={1330} y={53} s={46} f={AR}>C</T>
      <T x={1429} y={186} s={24.5} f={DV} r={-90}>Tumor Weight (g)</T>
      <T x={1432} y={525} s={25} f={DV} r={-90}>Nodule #</T>
      {cWeightP.map((p, i) => (
        <T key={"cp" + i} x={pxTop[i]} y={34} s={20} f={DV}>{p}</T>
      ))}
      {cNodP.map((p, i) => (
        <T key={"cn" + i} x={pxBot[i]} y={377} s={20} f={DV}>{p}</T>
      ))}
    </>
  );
}

function PanelD() {
  const series = [
    { data: dCon6, color: "#000", width: 4.5, dash: [] },
    { data: dEpi6, color: "#000", width: 4.5, dash: [12, 7] },
    { data: dCon5, color: "#5c5c5c", width: 3.5, dash: [] },
    { data: dEpi5, color: "#5c5c5c", width: 3, dash: [10, 6] },
    { data: dCon4, color: "#8e8e8e", width: 2.2, dash: [] },
    { data: dEpi4, color: "#9a9a9a", width: 2.2, dash: [3, 3] },
  ];
  const ref = [{ data: [[0, dMedianLevel], [dEndDay, dMedianLevel]], color: "#9a9a9a", width: 1.6, dash: [3, 3] }];
  const rows = [1009, 1034, 1058, 1082, 1107, 1131];
  const legStyles = [
    { c: "#8e8e8e", w: 2.2, d: undefined },
    { c: "#5c5c5c", w: 3.5, d: undefined },
    { c: "#000", w: 4.5, d: undefined },
    { c: "#9a9a9a", w: 2.2, d: "3 3" },
    { c: "#5c5c5c", w: 3, d: "10 6" },
    { c: "#000", w: 4.5, d: "12 7" },
  ];
  return (
    <>
      <ChartBox plot={[109, 940, 677, 1374]} m={[100, 20, 30, 45]} build={() => survivalCfg(series, dXTicks, dYTicks, 50, AR, 26.5, 3.5, ref)} />
      <T x={28} y={832} s={46} f={AR}>D</T>
      <T x={26} y={1151} s={30.5} f={AR} r={-90}>Percent survival</T>
      <T x={390} y={1437} s={29.7} f={AR}>Day after tumor implantation</T>
      {rows.map((y, i) => (
        <React.Fragment key={"dl" + i}>
          <L x1={115} x2={152} y={y} c={legStyles[i].c} w={legStyles[i].w} d={legStyles[i].d} />
          <T x={163} y={y} s={21.5} f={AR} a="l">
            {dLegendLabels[i]} (10<Sup c={dLegendExp[i]} />)
          </T>
        </React.Fragment>
      ))}
    </>
  );
}

function PanelE() {
  const bracket = [[
    [eBracketDays[0], eBracketValues[0]],
    [eBracketDays[1], eBracketValues[0]],
    [eBracketDays[1], eBracketValues[1]],
    [eBracketDays[0], eBracketValues[1]],
  ]];
  return (
    <>
      <ChartBox
        plot={[880, 962, 1228, 1374]}
        m={[70, 20, 30, 45]}
        build={() =>
          growthCfg({
            days: eDays, con: eCon, conSem: eConSem, epi: eEpi, epiSem: eEpiSem, xMax: 30, xTicks: eXTicks, yMax: 8, yTicks: eYTicks,
            xLabels: true, xSize: 26, ySize: 30, conW: 4, epiW: 2.2, dash: [8, 5], bw: 3.5, cap: 6, errW: 3, extra: [polyPlugin(bracket, 4.5)],
          })
        }
      />
      <T x={768} y={832} s={46} f={AR}>E</T>
      <T x={809} y={1168} s={31.5} f={LATO} r={-90}>
        Tumor volume (X 10^3 mm<Sup c="3" />)
      </T>
      <T x={1054} y={1437} s={26.6} f={DV}>Days after injection</T>
      <L x1={904} x2={933} y={1009} c="#000" w={4} />
      <L x1={904} x2={933} y={1044} c="#000" w={2.2} d="7 4" />
      <T x={948} y={1009} s={22} f={AR} a="l">
        E0771Con (10<Sup c="5" />)
      </T>
      <T x={948} y={1044} s={22} f={AR} a="l">
        E0771EpiKD (10<Sup c="5" />)
      </T>
      <T x={1197} y={1170} s={26} f={AR} a="l">***P&lt;0.0001</T>
    </>
  );
}

function PanelF() {
  const wGroups = [[fWeightCon4, fWeightEpi4], [fWeightCon5, fWeightEpi5], [fWeightCon6, fWeightEpi6]];
  const lGroups = [[fLungCon4, fLungEpi4], [fLungCon5, fLungEpi5], [fLungCon6, fLungEpi6]];
  const radii = [4.5, 6, 6];
  const pxTop = [1564, 1713, 1861];
  const pxBot = [1565, 1714, 1862];
  return (
    <>
      <ChartBox
        plot={[1490, 836, 1946, 1105]}
        m={[80, 20, 0, 16]}
        build={() =>
          dotCfg({
            groups: wGroups, radii, pxPerY: 269 / 7.5, yMin: -1, yMax: 6.5, yTicks: fWeightTicks, tickSize: 20,
            yFmt: (v: any) => (v === 0 ? "0" : Number(v).toFixed(1)), cats: false, seps: true, zero: true,
            stats: { means: fWeightMean, sems: fWeightSem },
            brackets: { top: fWeightBracketTop, left: fWeightBracketEnd, right: fWeightBracketEnd, lw: 3.5 },
          })
        }
      />
      <ChartBox
        plot={[1490, 1175, 1946, 1226]}
        m={[80, 22, 0, 14]}
        build={() =>
          dotCfg({
            groups: lGroups, radii, pxPerY: 51 / 0.35, keep: (v: number) => v > fLungBreak, yMin: 0.25, yMax: 0.6,
            yTicks: fLungUpperTicks, tickSize: 20, yFmt: (v: any) => Number(v).toFixed(2), cats: false, seps: false, xDisplay: false,
            brackets: { top: fLungBracketTop, left: fLungBracketEnd, right: fLungBracketEnd, lw: 3.5 },
          })
        }
      />
      <ChartBox
        plot={[1490, 1242, 1946, 1443]}
        m={[80, 70, 0, 50]}
        build={() =>
          dotCfg({
            groups: lGroups, radii, pxPerY: 201 / 0.2, keep: (v: number) => v <= fLungBreak, yMin: -0.05, yMax: 0.15,
            yTicks: fLungLowerTicks, tickSize: 20, yFmt: (v: any) => Number(v).toFixed(2), cats: true, catPad: 16,
            seps: true, sepExt: 67, zero: true, stats: { means: fLungMean, sems: fLungSem },
          })
        }
      />
      <T x={1330} y={827} s={46} f={AR}>F</T>
      <T x={1405} y={964} s={25} f={DV} r={-90}>Tumor Weight (g)</T>
      <T x={1405} y={1302} s={25} f={DV} r={-90}>Lung weight (g)</T>
      {fWeightP.map((p, i) => (
        <T key={"fp" + i} x={pxTop[i]} y={809} s={19.5} f={DV}>{p}</T>
      ))}
      {fLungP.map((p, i) => (
        <T key={"fl" + i} x={pxBot[i]} y={1150} s={19.5} f={DV}>{p}</T>
      ))}
    </>
  );
}

function BottomLegend() {
  const y0 = 1537;
  const dy = 32.1;
  const rightRows = [1583, 1619, 1656, 1694, 1732, 1769];
  const eStyles = [
    { c: "#8a8a8a", w: 3, d: undefined },
    { c: "#a8a8a8", w: 2.5, d: "2 3" },
    { c: "#5c5c5c", w: 5, d: undefined },
    { c: "#5c5c5c", w: 5, d: "15 6" },
    { c: "#000", w: 6, d: undefined },
    { c: "#000", w: 6, d: "20 7 5 7" },
  ];
  return (
    <>
      {leg4T1Exp.map((e, k) => {
        const ya = y0 + 2 * k * dy;
        const yb = ya + dy;
        return (
          <React.Fragment key={"bl" + k}>
            <L x1={21} x2={67} y={ya} c={greys[k]} w={5} />
            <L x1={21} x2={67} y={yb} c={greys[k]} w={5} d="18 6" />
            <T x={77} y={ya} s={25} f={AR} a="l">4T1Con (10<Sup c={e} />)</T>
            <T x={77} y={yb} s={25} f={AR} a="l">4T1EpiKD (10<Sup c={e} />)</T>
            <Brk x={277} y1={ya - 12} y2={yb + 4} tick={10} w={3} />
            <T x={283} y={(ya + yb) / 2} s={25} f={AR} a="l">{leg4T1P[k]}</T>
          </React.Fragment>
        );
      })}
      {legE0771Exp.map((e, k) => {
        const ya = rightRows[2 * k];
        const yb = rightRows[2 * k + 1];
        return (
          <React.Fragment key={"br" + k}>
            <L x1={456} x2={493} y={ya} c={eStyles[2 * k].c} w={eStyles[2 * k].w} d={eStyles[2 * k].d} />
            <L x1={456} x2={493} y={yb} c={eStyles[2 * k + 1].c} w={eStyles[2 * k + 1].w} d={eStyles[2 * k + 1].d} />
            <T x={509} y={ya} s={25} f={AR} a="l">E0771Con (10<Sup c={e} />)</T>
            <T x={509} y={yb} s={25} f={AR} a="l">E0771EpiKD (10<Sup c={e} />)</T>
            <Brk x={745} y1={ya - 11} y2={yb + 6} tick={13} w={3.5} />
            <T x={758} y={(ya + yb) / 2} s={25} f={AR} a="l">{legE0771P[k]}</T>
          </React.Fragment>
        );
      })}
      <T x={484} y={1888} s={41} f={LATO}>Gehan-Breslow-Wilcoxon method</T>
    </>
  );
}

export default function App() {
  return (
    <div style={{ position: "absolute", left: 0, top: 0, width: 1946, height: 1903, background: "#fff", overflow: "hidden" }}>
      <PanelA />
      <PanelB />
      <PanelC />
      <PanelD />
      <PanelE />
      <PanelF />
      <BottomLegend />
    </div>
  );
}
